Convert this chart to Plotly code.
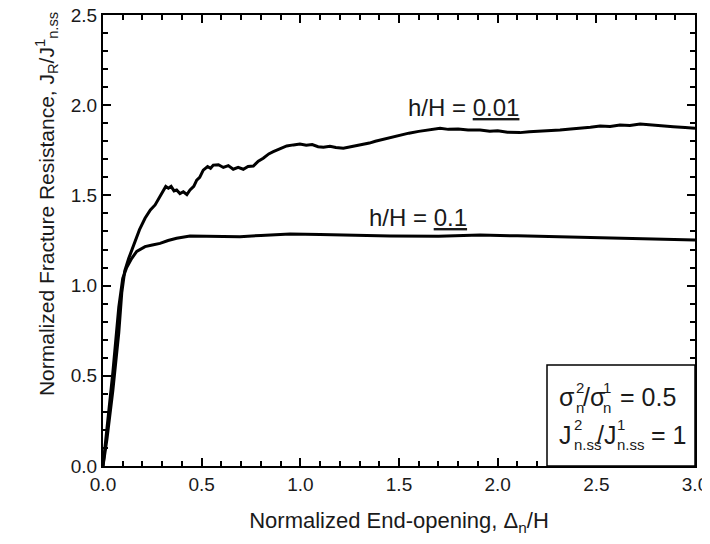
import plotly.graph_objects as go

# h/H = 0.01 (wavy upper curve)
x_001 = [0.0, 0.02, 0.05, 0.08, 0.095, 0.11, 0.13, 0.154, 0.185, 0.213, 0.24, 0.264,
         0.285, 0.306, 0.318, 0.331, 0.345, 0.36, 0.373, 0.39, 0.407, 0.425, 0.441,
         0.46, 0.475, 0.49, 0.508, 0.53, 0.545, 0.559, 0.585, 0.61, 0.635, 0.66,
         0.685, 0.711, 0.735, 0.762, 0.787, 0.812, 0.84, 0.863, 0.9, 0.931, 0.965,
         0.998, 1.03, 1.06, 1.09, 1.117, 1.15, 1.18, 1.218, 1.25, 1.28, 1.319, 1.35,
         1.38, 1.421, 1.46, 1.505, 1.55, 1.6, 1.65, 1.708, 1.75, 1.8, 1.85, 1.911,
         1.96, 2.0, 2.05, 2.113, 2.16, 2.2, 2.26, 2.316, 2.37, 2.42, 2.47, 2.519,
         2.57, 2.62, 2.67, 2.722, 2.76, 2.8, 2.85, 2.89, 2.95, 3.0]
y_001 = [0.0, 0.15, 0.42, 0.74, 0.96, 1.08, 1.15, 1.225, 1.31, 1.373, 1.42, 1.447,
         1.49, 1.53, 1.55, 1.54, 1.55, 1.525, 1.53, 1.51, 1.52, 1.505, 1.53,
         1.55, 1.585, 1.6, 1.64, 1.66, 1.65, 1.668, 1.67, 1.655, 1.665, 1.645,
         1.655, 1.645, 1.66, 1.663, 1.69, 1.706, 1.73, 1.742, 1.76, 1.774, 1.78,
         1.785, 1.778, 1.782, 1.77, 1.767, 1.772, 1.765, 1.761, 1.768, 1.772, 1.779, 1.79,
         1.8, 1.811, 1.82, 1.835, 1.845, 1.855, 1.862, 1.872, 1.866, 1.868, 1.862, 1.862,
         1.855, 1.858, 1.85, 1.848, 1.853, 1.855, 1.86, 1.862, 1.868, 1.872, 1.878, 1.885,
         1.882, 1.89, 1.888, 1.896, 1.893, 1.892, 1.886, 1.881, 1.876, 1.872]

# h/H = 0.1 (smooth lower curve)
x_01 = [0.0, 0.02, 0.05, 0.08, 0.1, 0.12, 0.145, 0.171, 0.213, 0.25, 0.289, 0.33,
        0.373, 0.441, 0.55, 0.694, 0.8, 0.948, 1.1, 1.201, 1.455, 1.7, 1.911, 2.1,
        2.316, 2.6, 2.8, 3.0]
y_01 = [0.0, 0.21, 0.52, 0.88, 1.04, 1.1, 1.15, 1.19, 1.216, 1.225, 1.234, 1.25,
        1.262, 1.275, 1.275, 1.271, 1.278, 1.286, 1.283, 1.28, 1.275, 1.274, 1.28, 1.276,
        1.271, 1.265, 1.258, 1.253]

# inset box text, split so that superscripts sit on top of subscripts
box_line1 = [("σ", 0), ("2<br>n", 17), ("/σ", 24), ("1<br>n", 44), ("= 0.5", 61)]
box_line2 = [("J", 0), ("2<br>n.ss", 15), ("/J", 38), ("1<br>n.ss", 58), ("= 1", 92)]

FONT = "Liberation Sans, Arial, sans-serif"
TXT = "#1a1a1a"

fig = go.Figure()
fig.add_trace(go.Scatter(x=x_001, y=y_001, mode="lines",
                         line=dict(color="black", width=3), showlegend=False))
fig.add_trace(go.Scatter(x=x_01, y=y_01, mode="lines",
                         line=dict(color="black", width=3), showlegend=False))

axis_common = dict(
    showline=True, linecolor="black", linewidth=2, mirror="ticks",
    ticks="inside", ticklen=8, tickwidth=2, tickcolor="black",
    showgrid=False, zeroline=False, tickformat=".1f", automargin=False,
    ticklabeloverflow="allow",
    tickfont=dict(size=19, color=TXT),
    minor=dict(ticks="inside", ticklen=5, tickwidth=1.5, tickcolor="black", dtick=0.1, showgrid=False),
)

fig.update_xaxes(range=[0, 3], dtick=0.5, tick0=0, **axis_common,
                 title=dict(text="Normalized End-opening, Δ<sub>n</sub>/H",
                            font=dict(size=22, color=TXT), standoff=23))
fig.update_yaxes(range=[0, 2.5], dtick=0.5, tick0=0, **axis_common)

# y title as a rotated annotation (sits above the plot centre like the original)
fig.add_annotation(x=-0.123, y=0.58, xref="paper", yref="paper", showarrow=False,
                   textangle=-90,
                   text="Normalized Fracture Resistance, J<sub>R</sub>/J<sup>1</sup><sub>n.ss</sub>",
                   font=dict(size=21, color=TXT))

# inset box with parameters
fig.add_shape(type="rect", xref="x", yref="y", x0=2.25, x1=3.0, y0=0, y1=0.56,
              line=dict(color="black", width=1.5), fillcolor="white")

for line, yv in [(box_line1, 0.38), (box_line2, 0.172)]:
    for txt, dx in line:
        small = "<br>" in txt
        fig.add_annotation(x=2.3, y=yv, xref="x", yref="y", showarrow=False,
                           xanchor="left", yanchor="middle", align="left",
                           xshift=dx, text=txt,
                           font=dict(size=15 if small else 25, color=TXT))

fig.add_annotation(x=1.825, y=1.985, xref="x", yref="y", showarrow=False,
                   text="h/H = <u>0.01</u>", font=dict(size=24, color=TXT))
fig.add_annotation(x=1.597, y=1.38, xref="x", yref="y", showarrow=False,
                   text="h/H = <u>0.1</u>", font=dict(size=24, color=TXT))

# page body has an 8px margin, so the figure is sized to sit inside the window
fig.update_layout(
    width=702, height=528,
    margin=dict(l=95, r=15, t=7, b=70),
    plot_bgcolor="white", paper_bgcolor="white",
    font=dict(family=FONT, color=TXT),
)

fig.write_html("out.html")
